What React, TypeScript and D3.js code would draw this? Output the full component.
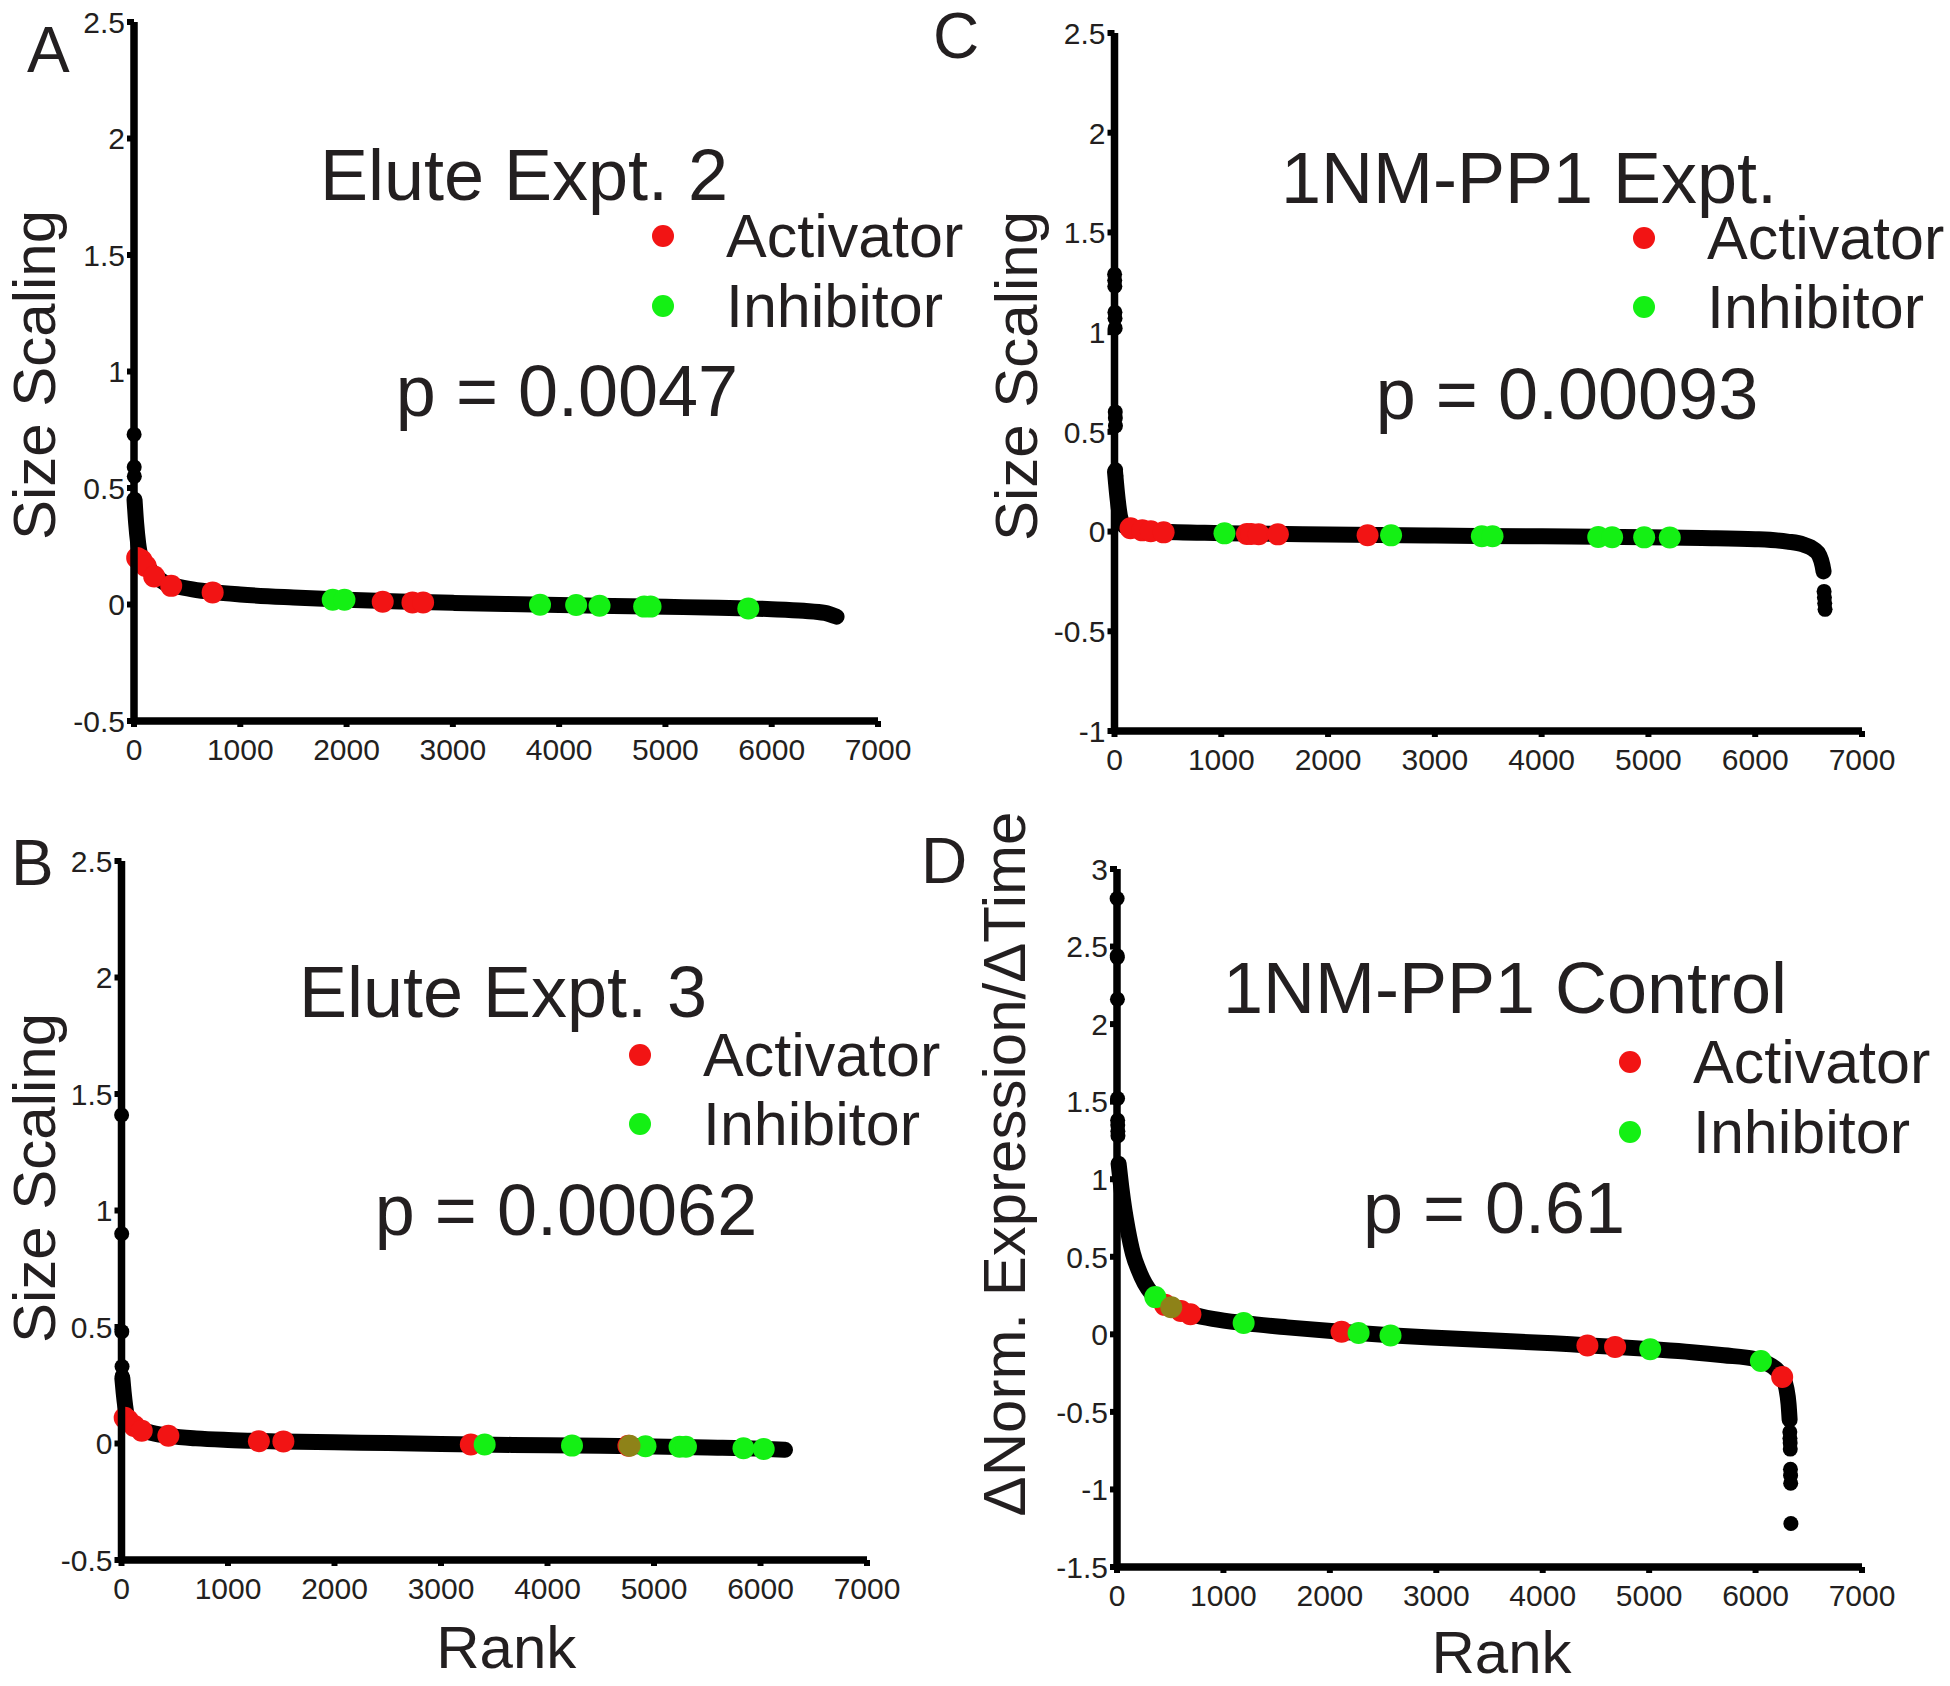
import React from "react";
import * as d3 from "d3";

// ---------- DATA ----------
const xTicks = [0, 1000, 2000, 3000, 4000, 5000, 6000, 7000];
const yTicksAB = [-0.5, 0, 0.5, 1, 1.5, 2, 2.5];
const yTicksC = [-1, -0.5, 0, 0.5, 1, 1.5, 2, 2.5];
const yTicksD = [-1.5, -1, -0.5, 0, 0.5, 1, 1.5, 2, 2.5, 3];

// Panel A – Elute Expt. 2
const curveA: [number, number][] = [[5,0.45],[20,0.35],[40,0.26],[60,0.21],[100,0.18],[150,0.15],[200,0.125],[300,0.09],[400,0.078],[550,0.065],[750,0.053],[1000,0.043],[1500,0.03],[2000,0.02],[2500,0.013],[3000,0.007],[3500,0.002],[4000,-0.002],[4500,-0.006],[5000,-0.01],[5500,-0.014],[6000,-0.02],[6300,-0.027],[6500,-0.036],[6610,-0.052]];
const outliersA: [number, number][] = [[1,0.73],[2,0.59],[3,0.55],[5,0.43]];
const redA: [number, number][] = [[30,0.2],[70,0.19],[110,0.165],[190,0.12],[350,0.08],[740,0.052],[2340,0.012],[2620,0.009],[2720,0.009]];
const greenA: [number, number][] = [[1870,0.02],[1980,0.02],[3820,-0.001],[4160,-0.002],[4380,-0.005],[4800,-0.009],[4860,-0.009],[5780,-0.017]];

// Panel B – Elute Expt. 3
const curveB: [number, number][] = [[8,0.28],[20,0.22],[35,0.16],[50,0.12],[80,0.1],[150,0.07],[250,0.05],[450,0.033],[700,0.022],[1000,0.015],[1500,0.009],[2000,0.005],[2500,0.002],[3000,-0.002],[3500,-0.005],[4000,-0.008],[4500,-0.01],[5000,-0.013],[5500,-0.017],[6000,-0.022],[6230,-0.027]];
const outliersB: [number, number][] = [[1,1.41],[2,0.9],[3,0.48],[5,0.33],[6,0.29]];
const redB: [number, number][] = [[30,0.11],[60,0.1],[120,0.075],[190,0.055],[440,0.033],[1290,0.01],[1520,0.009],[3280,-0.004],[4760,-0.01]];
const greenB: [number, number][] = [[3410,-0.004],[4230,-0.009],[4920,-0.012],[5240,-0.014],[5300,-0.014],[5840,-0.02],[6030,-0.024]];
const mixedB: [number, number][] = [[4770,-0.01]];

// Panel C – 1NM-PP1 Expt.
const curveC: [number, number][] = [[5,0.3],[15,0.24],[30,0.16],[50,0.08],[80,0.035],[120,0.018],[200,0.008],[400,0.0],[1000,-0.008],[2000,-0.015],[3000,-0.02],[4000,-0.024],[5000,-0.028],[5500,-0.032],[6000,-0.038],[6300,-0.05],[6450,-0.065],[6550,-0.09],[6600,-0.12],[6630,-0.17],[6640,-0.2]];
const outliersC: [number, number][] = [[1,1.29],[2,1.26],[3,1.23],[4,1.1],[5,1.07],[6,1.02],[7,0.6],[8,0.57],[9,0.53],[10,0.31],[12,0.28],[6645,-0.3],[6648,-0.33],[6651,-0.36],[6654,-0.39]];
const redC: [number, number][] = [[150,0.017],[260,0.006],[340,0.002],[460,-0.004],[1240,-0.012],[1280,-0.012],[1350,-0.013],[1530,-0.014],[2370,-0.018]];
const greenC: [number, number][] = [[1030,-0.009],[2590,-0.019],[3440,-0.023],[3540,-0.023],[4530,-0.027],[4660,-0.028],[4960,-0.029],[5200,-0.03]];

// Panel D – 1NM-PP1 Control
const curveD: [number, number][] = [[15,1.1],[40,0.95],[70,0.8],[100,0.68],[150,0.52],[200,0.42],[260,0.33],[330,0.26],[400,0.215],[500,0.175],[600,0.15],[700,0.13],[900,0.1],[1200,0.072],[1600,0.045],[2100,0.017],[2600,-0.007],[3100,-0.025],[3600,-0.042],[4100,-0.058],[4400,-0.07],[4700,-0.081],[5000,-0.095],[5400,-0.115],[5700,-0.135],[6000,-0.16],[6100,-0.185],[6200,-0.23],[6250,-0.275],[6290,-0.35],[6310,-0.45],[6320,-0.55]];
const outliersD: [number, number][] = [[1,2.81],[2,2.44],[3,2.43],[4,2.16],[5,1.52],[6,1.38],[7,1.35],[8,1.31],[9,1.28],[6322,-0.63],[6323,-0.67],[6325,-0.7],[6326,-0.74],[6328,-0.87],[6329,-0.91],[6330,-0.96],[6332,-1.22]];
const redD: [number, number][] = [[450,0.19],[600,0.15],[690,0.13],[2110,0.017],[4420,-0.072],[4680,-0.081],[6250,-0.275]];
const greenD: [number, number][] = [[360,0.24],[1190,0.073],[2270,0.008],[2570,-0.007],[5010,-0.096],[6050,-0.172]];
const mixedD: [number, number][] = [[510,0.175]];

const legendLabels = ["Activator", "Inhibitor"];

// ---------- LAYOUT / STYLE ----------
const FONT = "'Liberation Sans', Arial, sans-serif";
const INK = "#231f20";
const RED = "#f21414";
const GREEN = "#14f014";
const MIXED = "#8e8218";

type Pt = [number, number];
interface PanelCfg {
  letter: string; letterX: number; letterY: number;
  x0: number; x1: number; yTop: number; yBot: number;
  yDomain: [number, number]; yTicks: number[];
  curve: Pt[]; outliers: Pt[]; red: Pt[]; green: Pt[]; mixed: Pt[];
  title: string; titleX: number; titleY: number;
  legX: number; legY1: number; legY2: number;
  pText: string; pX: number; pY: number;
  yLabel: string; yLabelX: number; yLabelY: number;
  showRank: boolean; rankY: number;
}

const panels: PanelCfg[] = [
  { letter: "A", letterX: 27, letterY: 72, x0: 134, x1: 878, yTop: 22, yBot: 721, yDomain: [-0.5, 2.5], yTicks: yTicksAB,
    curve: curveA, outliers: outliersA, red: redA, green: greenA, mixed: [],
    title: "Elute Expt. 2", titleX: 524, titleY: 200, legX: 663, legY1: 257, legY2: 327,
    pText: "p = 0.0047", pX: 567, pY: 416, yLabel: "Size Scaling", yLabelX: 55, yLabelY: 375, showRank: false, rankY: 0 },
  { letter: "C", letterX: 933, letterY: 58, x0: 1114.5, x1: 1862, yTop: 33, yBot: 731, yDomain: [-1, 2.5], yTicks: yTicksC,
    curve: curveC, outliers: outliersC, red: redC, green: greenC, mixed: [],
    title: "1NM-PP1 Expt.", titleX: 1529, titleY: 203, legX: 1644, legY1: 259, legY2: 328,
    pText: "p = 0.00093", pX: 1567, pY: 419, yLabel: "Size Scaling", yLabelX: 1037, yLabelY: 376, showRank: false, rankY: 0 },
  { letter: "B", letterX: 11, letterY: 885, x0: 121.5, x1: 867, yTop: 861, yBot: 1560, yDomain: [-0.5, 2.5], yTicks: yTicksAB,
    curve: curveB, outliers: outliersB, red: redB, green: greenB, mixed: mixedB,
    title: "Elute Expt. 3", titleX: 503, titleY: 1017, legX: 640, legY1: 1076, legY2: 1145,
    pText: "p = 0.00062", pX: 566, pY: 1235, yLabel: "Size Scaling", yLabelX: 55, yLabelY: 1178, showRank: true, rankY: 1668 },
  { letter: "D", letterX: 921, letterY: 883, x0: 1117, x1: 1862, yTop: 869, yBot: 1567, yDomain: [-1.5, 3], yTicks: yTicksD,
    curve: curveD, outliers: outliersD, red: redD, green: greenD, mixed: mixedD,
    title: "1NM-PP1 Control", titleX: 1505, titleY: 1013, legX: 1630, legY1: 1083, legY2: 1153,
    pText: "p = 0.61", pX: 1494, pY: 1233, yLabel: "\u0394Norm. Expression/\u0394Time", yLabelX: 1025, yLabelY: 1164, showRank: true, rankY: 1673 },
];

function Panel({ p }: { p: PanelCfg }) {
  const x = d3.scaleLinear().domain([0, 7000]).range([p.x0, p.x1]);
  const y = d3.scaleLinear().domain(p.yDomain).range([p.yBot, p.yTop]);
  const line = d3.line<Pt>().x(d => x(d[0])).y(d => y(d[1])).curve(d3.curveMonotoneX);
  const fmt = (v: number) => String(v);
  return (
    <g>
      {/* data */}
      <path d={line(p.curve) || ""} fill="none" stroke="#000" strokeWidth={16} strokeLinecap="round" strokeLinejoin="round" />
      {p.outliers.map((d, i) => (
        <circle key={"o" + i} cx={x(d[0])} cy={y(d[1])} r={7.5} fill="#000" />
      ))}
      {p.red.map((d, i) => (
        <circle key={"r" + i} cx={x(d[0])} cy={y(d[1])} r={11} fill={RED} />
      ))}
      {p.green.map((d, i) => (
        <circle key={"g" + i} cx={x(d[0])} cy={y(d[1])} r={11} fill={GREEN} />
      ))}
      {p.mixed.map((d, i) => (
        <circle key={"m" + i} cx={x(d[0])} cy={y(d[1])} r={11} fill={MIXED} />
      ))}
      {/* axes */}
      <line x1={p.x0} x2={p.x0} y1={p.yTop} y2={p.yBot} stroke="#000" strokeWidth={7.5} />
      <line x1={p.x0} x2={p.x1} y1={p.yBot} y2={p.yBot} stroke="#000" strokeWidth={7.5} />
      {p.yTicks.map(t => (
        <g key={"yt" + t}>
          <line x1={p.x0 - 7} x2={p.x0} y1={y(t)} y2={y(t)} stroke="#000" strokeWidth={6} />
          <text x={p.x0 - 9} y={y(t)} dy="0.36em" textAnchor="end" fontSize={30} fontFamily={FONT} fill={INK}>{fmt(t)}</text>
        </g>
      ))}
      {xTicks.map(t => (
        <g key={"xt" + t}>
          <line x1={x(t)} x2={x(t)} y1={p.yBot} y2={p.yBot + 6} stroke="#000" strokeWidth={6} />
          <text x={x(t)} y={p.yBot + 39} textAnchor="middle" fontSize={30} fontFamily={FONT} fill={INK}>{fmt(t)}</text>
        </g>
      ))}
      {/* texts */}
      <text x={p.letterX} y={p.letterY} fontSize={64} fontFamily={FONT} fill={INK}>{p.letter}</text>
      <text x={p.titleX} y={p.titleY} textAnchor="middle" fontSize={72} fontFamily={FONT} fill={INK}>{p.title}</text>
      <circle cx={p.legX} cy={p.legY1 - 21} r={11} fill={RED} />
      <text x={p.legX + 63} y={p.legY1} fontSize={61} fontFamily={FONT} fill={INK}>{legendLabels[0]}</text>
      <circle cx={p.legX} cy={p.legY2 - 21} r={11} fill={GREEN} />
      <text x={p.legX + 63} y={p.legY2} fontSize={61} fontFamily={FONT} fill={INK}>{legendLabels[1]}</text>
      <text x={p.pX} y={p.pY} textAnchor="middle" fontSize={72} fontFamily={FONT} fill={INK}>{p.pText}</text>
      <text transform={`translate(${p.yLabelX},${p.yLabelY}) rotate(-90)`} textAnchor="middle" fontSize={60} fontFamily={FONT} fill={INK}>{p.yLabel}</text>
      {p.showRank && (
        <text x={(p.x0 + p.x1) / 2 + 12} y={p.rankY} textAnchor="middle" fontSize={60} fontFamily={FONT} fill={INK}>Rank</text>
      )}
    </g>
  );
}

export default function App() {
  return (
    <svg width={1950} height={1686} viewBox="0 0 1950 1686" style={{ position: "absolute", left: 0, top: 0, background: "#fff" }}>
      <rect x={0} y={0} width={1950} height={1686} fill="#fff" />
      {panels.map(p => <Panel key={p.letter} p={p} />)}
    </svg>
  );
}
